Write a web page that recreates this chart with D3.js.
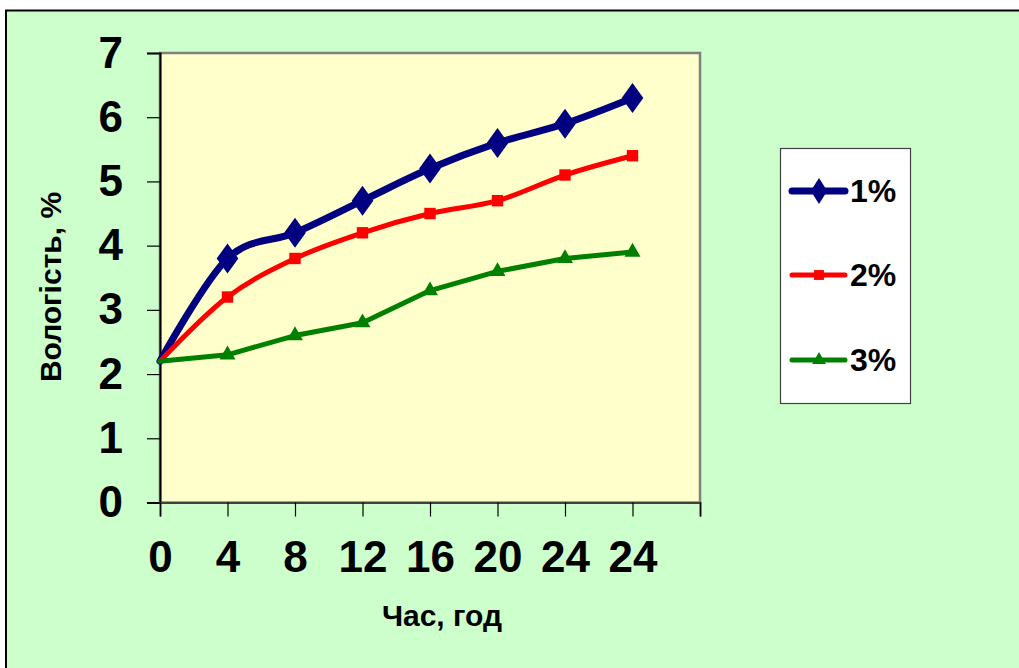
<!DOCTYPE html>
<html><head><meta charset="utf-8">
<script src="https://cdn.jsdelivr.net/npm/d3@7"></script>
<style>body{margin:0;background:#fff;overflow:hidden}svg{display:block}text{font-family:"Liberation Sans",Arial,sans-serif;font-weight:bold}</style>
</head><body>
<svg id="c" width="1019" height="668"></svg>
<script>
const categories = ["0","4","8","12","16","20","24","24",""];
const seriesNames = ["1%","2%","3%"];
const s1 = [2.2,3.8,4.2,4.7,5.2,5.6,5.9,6.3];
const s2 = [2.2,3.2,3.8,4.2,4.5,4.7,5.1,5.4];
const s3 = [2.2,2.3,2.6,2.8,3.3,3.6,3.8,3.9];
const yTicks = [0,1,2,3,4,5,6,7];

const svg = d3.select("#c");
svg.append("rect").attr("x",6).attr("y",10.5).attr("width",1100).attr("height",800)
  .attr("fill","#CCFFCC").attr("stroke","#000").attr("stroke-width",2);

const L=160,R=700,T=53,B=502.5;
const x = d3.scalePoint().domain(categories.map((d,i)=>i)).range([L,R]);
const y = d3.scaleLinear().domain([0,7]).range([B,T]);

svg.append("rect").attr("x",L).attr("y",T).attr("width",R-L).attr("height",B-T)
  .attr("fill","#FFFFCC").attr("stroke","#808080").attr("stroke-width",2.5);

// y axis
const ya = svg.append("g").attr("transform",`translate(${L},0)`)
  .call(d3.axisLeft(y).tickValues(yTicks).tickSize(13).tickPadding(24).tickFormat(d3.format("d")));
ya.select(".domain").attr("stroke","#000").attr("stroke-width",2);
ya.selectAll(".tick line").attr("stroke","#000").attr("stroke-width",1.2);
ya.selectAll("text").attr("font-size",44).attr("fill","#000").attr("font-family","Liberation Sans, Arial").attr("font-weight","bold");

// x axis
const xa = svg.append("g").attr("transform",`translate(0,${B})`)
  .call(d3.axisBottom(x).tickSize(14).tickPadding(24).tickFormat(i=>categories[i]));
xa.select(".domain").attr("stroke","#404040").attr("stroke-width",2);
xa.selectAll(".tick line").attr("stroke","#000").attr("stroke-width",1.2);
xa.selectAll("text").attr("font-size",44).attr("fill","#000").attr("font-family","Liberation Sans, Arial").attr("font-weight","bold").attr("dy","0.71em");

svg.append("text").attr("x",442).attr("y",626).attr("text-anchor","middle").attr("font-size",30).text("Час, год");
svg.append("text").attr("transform","translate(61,287) rotate(-90)").attr("text-anchor","middle").attr("font-size",30).text("Вологість, %");

const series = [
  {vals:s1,color:"#000080",w:7,sym:d3.symbolDiamond,size:260,curve:d3.curveCardinal.tension(0)},
  {vals:s2,color:"#FF0000",w:5,sym:d3.symbolSquare,size:130,curve:d3.curveCardinal.tension(0)},
  {vals:s3,color:"#008000",w:5,sym:d3.symbolTriangle,size:110,curve:d3.curveLinear}
];
series.forEach(s=>{
  const line = d3.line().x((d,i)=>x(i)).y(d=>y(d)).curve(s.curve);
  svg.append("path").attr("d",line(s.vals)).attr("fill","none").attr("stroke",s.color)
    .attr("stroke-width",s.w).attr("stroke-linejoin","round").attr("stroke-linecap","round");
});
series.forEach(s=>{
  svg.append("g").selectAll("path").data(s.vals.slice(1)).join("path")
    .attr("transform",(d,i)=>`translate(${x(i+1)},${y(d)})${s.sym===d3.symbolDiamond?" scale(1.25,1)":""}`)
    .attr("d",d3.symbol().type(s.sym).size(s.size)).attr("fill",s.color);
});

// legend
const lg = svg.append("g");
lg.append("rect").attr("x",780.5).attr("y",148.5).attr("width",130).attr("height",255)
  .attr("fill","#fff").attr("stroke","#404040").attr("stroke-width",1.2);
const ly=[191,275,360];
series.forEach((s,i)=>{
  lg.append("line").attr("x1",792).attr("x2",845).attr("y1",ly[i]).attr("y2",ly[i])
    .attr("stroke",s.color).attr("stroke-width",s.w).attr("stroke-linecap","round");
  lg.append("path").attr("transform",`translate(819,${ly[i]})${s.sym===d3.symbolDiamond?" scale(1.1,1)":""}`)
    .attr("d",d3.symbol().type(s.sym).size(s.size*0.75)).attr("fill",s.color);
  lg.append("text").attr("x",850).attr("y",ly[i]+11).attr("font-size",32).text(seriesNames[i]);
});
</script>
</body></html>
